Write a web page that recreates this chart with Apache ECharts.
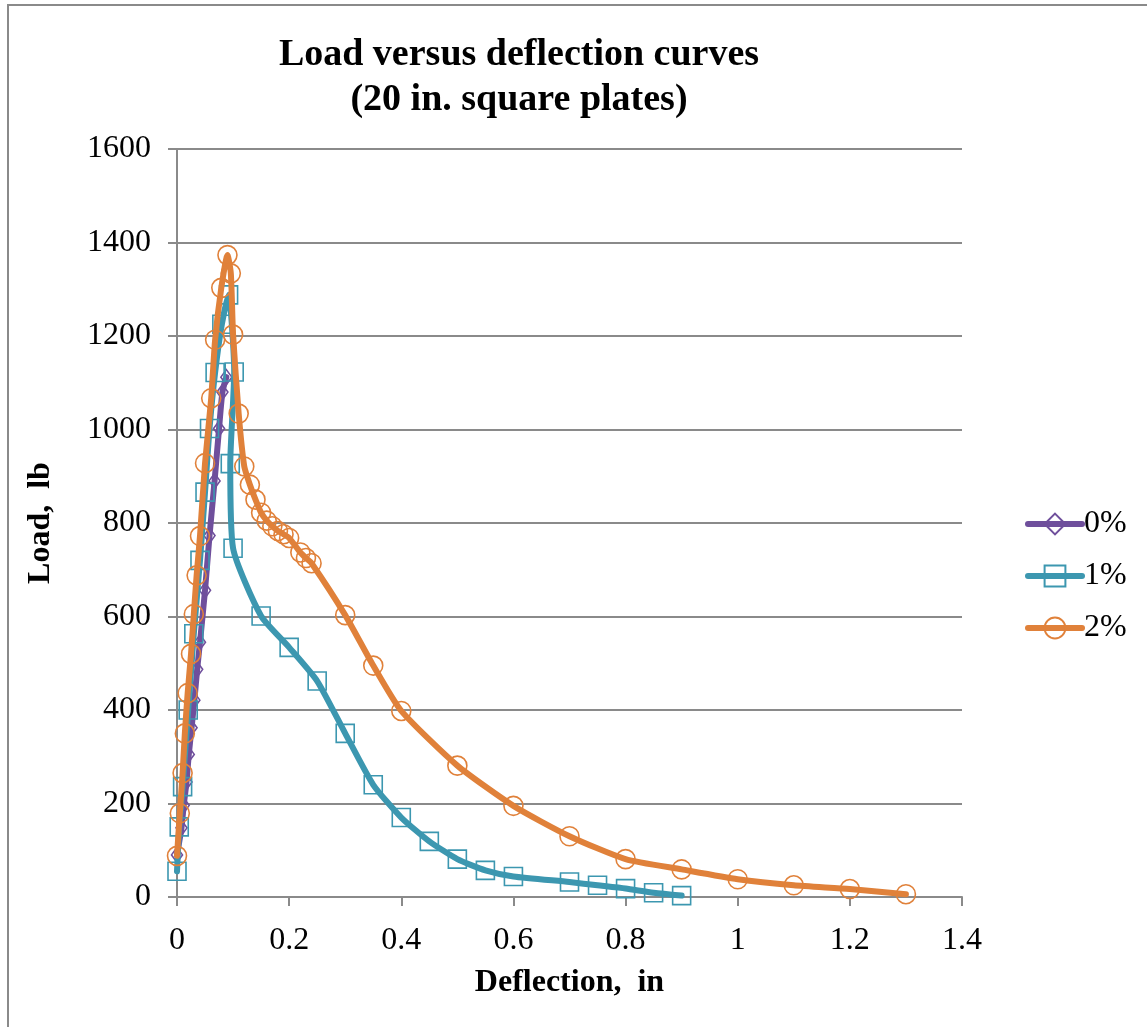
<!DOCTYPE html>
<html>
<head>
<meta charset="utf-8">
<script src="https://cdn.jsdelivr.net/npm/echarts@6/dist/echarts.min.js"></script>
<style>
  html, body { margin: 0; padding: 0; background: #fff; }
  #chart { width: 1147px; height: 1027px; }
</style>
</head>
<body>
<div id="chart"></div>
<script>
// Load versus deflection, 20 in. square plates (0%, 1%, 2%)
const seriesNames = ['0%', '1%', '2%'];

const defl0 = [0, 0.008, 0.012, 0.017, 0.021, 0.026, 0.031, 0.036, 0.041, 0.050, 0.058, 0.067, 0.075, 0.081, 0.088];
const load0 = [90, 148, 196, 246, 305, 362, 421, 487, 545, 656, 773, 890, 1002, 1080, 1112];

const defl1 = [0, 0.004, 0.010, 0.020, 0.030, 0.041, 0.050, 0.058, 0.068, 0.080, 0.092, 0.102, 0.095, 0.100,
  0.15, 0.20, 0.25, 0.30, 0.35, 0.40, 0.45, 0.50, 0.55, 0.60, 0.70, 0.75, 0.80, 0.85, 0.90];
const load1 = [55, 150, 236, 400, 563, 720, 866, 1002, 1122, 1225, 1288, 1123, 927, 746,
  601, 534, 462, 350, 240, 170, 119, 81, 57, 44, 32, 25, 18, 9, 3];

const defl2 = [0, 0.005, 0.010, 0.014, 0.019, 0.025, 0.030, 0.035, 0.041, 0.050, 0.061, 0.068, 0.079, 0.090,
  0.096, 0.100, 0.110, 0.120, 0.130, 0.140, 0.150, 0.160, 0.170, 0.180, 0.190, 0.200, 0.220, 0.230, 0.240,
  0.30, 0.35, 0.40, 0.50, 0.60, 0.70, 0.80, 0.90, 1.00, 1.10, 1.20, 1.30];
const load2 = [88, 179, 265, 350, 436, 520, 605, 688, 772, 928, 1067, 1192, 1303, 1373,
  1334, 1203, 1034, 921, 882, 850, 822, 805, 793, 783, 776, 768, 737, 725, 714,
  603, 495, 398, 281, 195, 130, 81, 59, 38, 25, 17, 6];

const xTicks = [0, 0.2, 0.4, 0.6, 0.8, 1, 1.2, 1.4];
const yTicks = [0, 200, 400, 600, 800, 1000, 1200, 1400, 1600];

const colors = ['#6F4F9C', '#3C97B0', '#E0813A'];
const serif = '"Liberation Serif", "Times New Roman", serif';

const pairs = (xs, ys) => xs.map((x, i) => [x, ys[i]]);

function lineSeries(idx, data, symbol, size) {
  return {
    name: seriesNames[idx],
    type: 'line',
    data: data,
    smooth: 0.2,
    symbol: symbol,
    symbolSize: size,
    showAllSymbol: true,
    lineStyle: { color: colors[idx], width: 6, cap: 'round', join: 'round' },
    itemStyle: { color: 'rgba(255,255,255,0)', borderColor: colors[idx], borderWidth: 1.6 },
    emphasis: { disabled: true },
    animation: false,
    z: 2 + idx
  };
}

const chart = echarts.init(document.getElementById('chart'), null, { renderer: 'canvas' });

chart.setOption({
  backgroundColor: '#ffffff',
  animation: false,
  textStyle: { fontFamily: serif },
  graphic: [
    {
      type: 'rect', z: -10, silent: true,
      shape: { x: 8, y: 5, width: 1400, height: 1300 },
      style: { fill: 'none', stroke: '#8a8a8a', lineWidth: 2 }
    },
    {
      type: 'text', silent: true,
      style: { text: 'Load versus deflection curves', x: 519, y: 55,
        font: 'bold 38px ' + serif, fill: '#000', textAlign: 'center', textVerticalAlign: 'middle' }
    },
    {
      type: 'text', silent: true,
      style: { text: '(20 in. square plates)', x: 519, y: 100,
        font: 'bold 38px ' + serif, fill: '#000', textAlign: 'center', textVerticalAlign: 'middle' }
    }
  ],
  grid: { left: 177, right: 185, top: 149, bottom: 130, containLabel: false },
  legend: {
    orient: 'vertical',
    left: 1020,
    top: 503,
    itemWidth: 54,
    itemHeight: 26,
    itemGap: 20,
    data: seriesNames,
    lineStyle: { width: 6 },
    textStyle: { fontFamily: serif, fontSize: 32, color: '#000', padding: [0, 0, 0, -3] }
  },
  xAxis: {
    type: 'value',
    min: 0, max: 1.4, interval: 0.2,
    name: 'Deflection,  in',
    nameLocation: 'middle',
    nameGap: 70,
    nameTextStyle: { fontFamily: serif, fontSize: 32, fontWeight: 'bold', color: '#000' },
    axisLine: { show: true, onZero: false, lineStyle: { color: '#8a8a8a', width: 2 } },
    axisTick: { show: true, inside: false, length: 9, lineStyle: { color: '#8a8a8a', width: 2 } },
    axisLabel: {
      fontFamily: serif, fontSize: 32, color: '#000', margin: 28,
      formatter: v => {
        const t = xTicks.find(k => Math.abs(k - v) < 1e-9);
        return t === undefined ? '' : String(t);
      }
    },
    splitLine: { show: false }
  },
  yAxis: {
    type: 'value',
    min: 0, max: 1600, interval: 200,
    name: 'Load,  lb',
    nameLocation: 'middle',
    nameGap: 120,
    nameTextStyle: { fontFamily: serif, fontSize: 32, fontWeight: 'bold', color: '#000' },
    axisLine: { show: true, lineStyle: { color: '#8a8a8a', width: 2 } },
    axisTick: { show: true, inside: false, length: 9, lineStyle: { color: '#8a8a8a', width: 2 } },
    axisLabel: {
      fontFamily: serif, fontSize: 32, color: '#000', margin: 26,
      formatter: v => {
        const t = yTicks.find(k => Math.abs(k - v) < 1e-6);
        return t === undefined ? '' : String(t);
      }
    },
    splitLine: { show: true, lineStyle: { color: '#8a8a8a', width: 2 } }
  },
  series: [
    lineSeries(0, pairs(defl0, load0), 'diamond', [11, 15]),
    lineSeries(1, pairs(defl1, load1), 'rect', 18),
    lineSeries(2, pairs(defl2, load2), 'circle', 19)
  ]
});
</script>
</body>
</html>
